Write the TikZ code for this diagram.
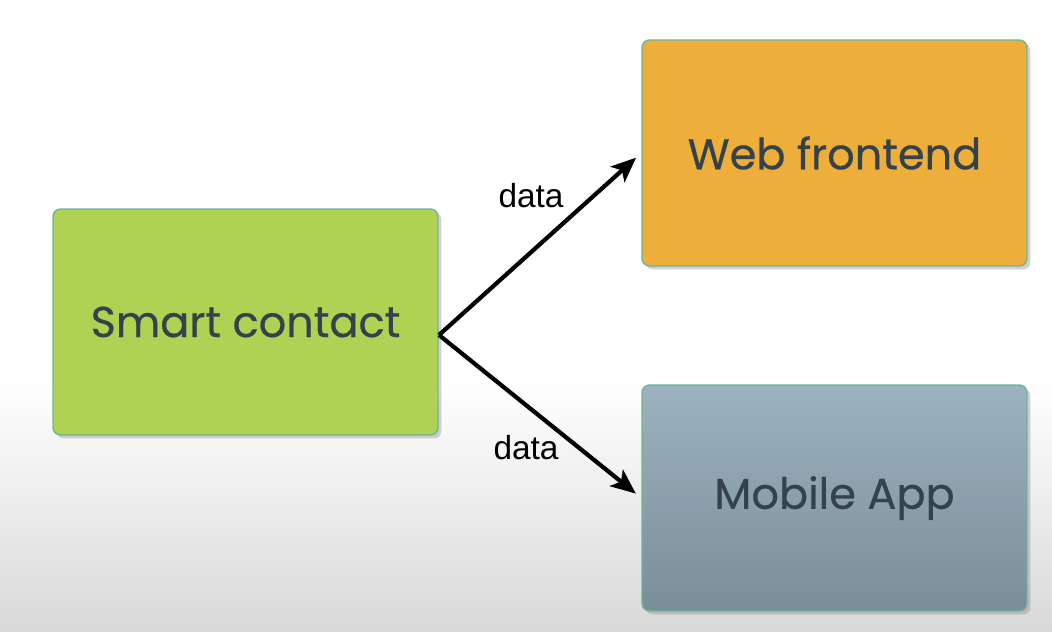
\documentclass[tikz,border=0pt]{standalone}
\usepackage{fontspec}
\setmainfont{Poppins}
\newfontfamily\boxfont{Poppins}[FakeBold=0.5]
\newfontfamily\labelfont{Liberation Sans}
\usetikzlibrary{arrows.meta,shadows}

\definecolor{boxgreen}{HTML}{AFD255}
\definecolor{boxorange}{HTML}{EDAE3C}
\definecolor{mobtop}{HTML}{9CB2BE}
\definecolor{mobbot}{HTML}{7A8E99}
\definecolor{boxline}{HTML}{6DB59A}
\definecolor{boxtext}{HTML}{34434B}

\begin{document}
\begin{tikzpicture}[x=0.02cm, y=-0.02cm,
        block/.style = {draw=boxline, line width=0.8pt, rounded corners=1.5mm,
            minimum width=7.7cm, minimum height=4.52cm, text=boxtext,
            font=\boxfont\fontsize{24.5}{29}\selectfont,
            drop shadow={shadow xshift=2pt, shadow yshift=-2pt, opacity=0.35}},
        flow/.style = {-{Stealth[length=5mm, width=4.2mm, inset=1.2mm]}, line width=2.4pt},
        lbl/.style = {font=\labelfont\fontsize{19}{22}\selectfont}]
        % background
        \useasboundingbox (0,0) rectangle (1052,632);
        \fill[white] (0,0) rectangle (1052,380);
        \shade[top color=white, bottom color=black!15] (0,380) rectangle (1052,632);
        % boxes
        \node[block, fill=boxgreen] (smart) at (245.5,322) {Smart contact};
        \node[block, fill=boxorange] (web) at (834.5,153) {Web frontend};
        \node[block, top color=mobtop, bottom color=mobbot] (mobile) at (834.5,498) {Mobile App};
        % arrows
        \coordinate (fork) at (439,335);
        \draw[flow, shorten >=4pt] (fork) -- (web.west);
        \draw[flow, shorten >=4pt] (fork) -- (mobile.west);
        \node[lbl] (toplbl) at (531,196) {data};
        \node[lbl] (botlbl) at (526,448) {data};
    \end{tikzpicture}
\end{document}
